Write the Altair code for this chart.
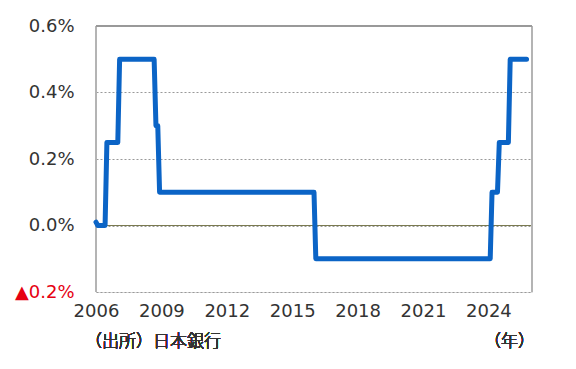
import altair as alt
import pandas as pd

# Bank of Japan policy rate (%), change points, monthly
years = [2006, 2006, 2006, 2006, 2007, 2007, 2008, 2008, 2008, 2008, 2016, 2016, 2024, 2024, 2024, 2024, 2024, 2025, 2025]
months = [1, 2, 6, 7, 1, 2, 9, 10, 11, 12, 1, 2, 2, 3, 6, 7, 12, 1, 10]
rates = [0.01, 0.0, 0.0, 0.25, 0.25, 0.5, 0.5, 0.3, 0.3, 0.1, 0.1, -0.1, -0.1, 0.1, 0.1, 0.25, 0.25, 0.5, 0.5]

x_ticks = [2006, 2009, 2012, 2015, 2018, 2021, 2024]
y_ticks = [-0.2, 0.0, 0.2, 0.4, 0.6]
source_text = "（出所）日本銀行"
unit_text = "（年）"

df = pd.DataFrame({
    "t": [y + (m - 1) / 12 for y, m in zip(years, months)],
    "rate": rates,
})

W, H = 436, 266
xs = alt.Scale(domain=[2006, 2026], nice=False, zero=False)
ys = alt.Scale(domain=[-0.2, 0.6], nice=False, zero=False)
JP_FONT = "Noto Sans CJK JP Light"

line = alt.Chart(df).mark_line(
    color="#0b64c6", strokeWidth=5, strokeJoin="round", strokeCap="round", clip=False
).encode(
    x=alt.X("t:Q", scale=xs, axis=alt.Axis(
        values=x_ticks, format="d", title=None, grid=False, ticks=False, domain=False,
        labelFont="DejaVu Sans", labelFontSize=18, labelColor="#333333", labelPadding=10,
        labelOverlap=False, labelFlush=False, labelBound=False,
    )),
    y=alt.Y("rate:Q", scale=ys, axis=alt.Axis(
        values=y_ticks, title=None, grid=True, gridDash=[2, 2], gridColor="#999999",
        ticks=False, domain=False, labelFont="DejaVu Sans", labelFontSize=18,
        labelPadding=22, labelBaseline="middle", labelOverlap=False, labelFlush=False,
        labelExpr="datum.value < 0 ? '▲' + format(abs(datum.value), '.1f') + '%' : format(datum.value, '.1f') + '%'",
        labelColor=alt.condition("datum.value < 0", alt.value("#e60012"), alt.value("#333333")),
    )),
)

zero = alt.Chart(df).mark_rule(color="#7a7a50", strokeWidth=1).encode(y=alt.datum(0, scale=ys))
top = alt.Chart(df).mark_rule(color="#999999", strokeWidth=1).encode(y=alt.datum(0.6, scale=ys))
left = alt.Chart(df).mark_rule(color="#b5b5b5", strokeWidth=1.5).encode(x=alt.datum(2006, scale=xs))
right = alt.Chart(df).mark_rule(color="#b5b5b5", strokeWidth=1.5).encode(x=alt.datum(2026, scale=xs))

src = alt.Chart(df).mark_text(
    text=source_text, font=JP_FONT, fontSize=17, fontWeight=300, color="#333333",
    align="left", baseline="middle"
).encode(x=alt.value(-11), y=alt.value(H + 50))
unit = alt.Chart(df).mark_text(
    text=unit_text, font=JP_FONT, fontSize=17, fontWeight=300, color="#333333",
    align="right", baseline="middle"
).encode(x=alt.value(W + 3), y=alt.value(H + 50))

chart = alt.layer(zero, left, right, top, line, src, unit).properties(
    width=W, height=H,
    autosize=alt.AutoSizeParams(type="none"),
    padding={"left": 96, "top": 26, "right": 44, "bottom": 77},
).configure_view(stroke=None).configure(background="white")

chart.save("out.html", embed_options={"renderer": "svg", "actions": False})
